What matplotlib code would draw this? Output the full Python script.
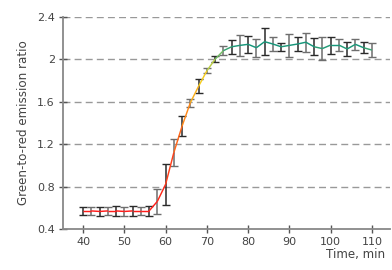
import numpy as np
import matplotlib
matplotlib.use('Agg')
import matplotlib.pyplot as plt
from matplotlib.collections import LineCollection
from matplotlib.colors import LinearSegmentedColormap

# data
time = list(range(40, 112, 2))
ratio = [0.57, 0.57, 0.565, 0.57, 0.57, 0.565, 0.57, 0.57, 0.57,
         0.66, 0.82, 1.12, 1.37, 1.59, 1.745, 1.89, 2.0, 2.08,
         2.117, 2.13, 2.14, 2.108, 2.165, 2.143, 2.117, 2.13, 2.143,
         2.16, 2.117, 2.10, 2.133, 2.133, 2.096, 2.14, 2.108, 2.086]
err = [0.04, 0.04, 0.045, 0.04, 0.045, 0.04, 0.045, 0.04, 0.045,
       0.12, 0.195, 0.125, 0.09, 0.037, 0.065, 0.023, 0.028, 0.043,
       0.065, 0.1, 0.08, 0.085, 0.13, 0.07, 0.04, 0.105, 0.065,
       0.09, 0.08, 0.11, 0.08, 0.055, 0.07, 0.05, 0.05, 0.065]
yticks = [0.4, 0.8, 1.2, 1.6, 2.0, 2.4]
ytick_labels = ['0.4', '0.8', '1.2', '1.6', '2', '2.4']
xticks = [40, 50, 60, 70, 80, 90, 100, 110]

txt = '#444444'
fig = plt.figure(figsize=(3.92, 2.70), dpi=100)
ax = fig.add_axes([0.161, 0.152, 0.834, 0.786])

# error bars, alternating dark / grey
bar_cols = ['#2a2a2a', '#6e6e6e']
for i in range(len(time)):
    ax.errorbar(time[i], ratio[i], yerr=err[i], fmt='none',
                ecolor=bar_cols[i % 2], elinewidth=1.1, capsize=3.2,
                capthick=1.0, zorder=3)

# line coloured by value
cmap = LinearSegmentedColormap.from_list('rg', [
    (0.0, '#ff1a1a'), (0.25, '#ff3b1a'), (0.6, '#ff8c1a'),
    (0.82, '#f5d21e'), (0.92, '#9ccc5a'), (1.0, '#16967a')])
pts = np.column_stack([time, ratio])
segs = np.stack([pts[:-1], pts[1:]], axis=1)
mid = (np.array(ratio[:-1]) + np.array(ratio[1:])) / 2
lc = LineCollection(segs, cmap=cmap, linewidths=1.05, zorder=4)
lc.set_array(mid)
lc.set_clim(0.55, 2.13)
ax.add_collection(lc)

ax.set_xlim(35.16, 114.4)
ax.set_ylim(0.4, 2.4)
ax.set_yticks(yticks)
ax.set_yticklabels(ytick_labels)
ax.set_xticks(xticks)

for y in yticks[1:]:
    ax.axhline(y, color='#999999', lw=1.0, ls=(0, (5, 3)), zorder=1)

for s in ['top', 'right']:
    ax.spines[s].set_visible(False)
for s in ['left', 'bottom']:
    ax.spines[s].set_color('#888888')
    ax.spines[s].set_linewidth(1.3)
ax.tick_params(direction='inout', length=6, width=1.0, color='#555555',
               labelsize=8, labelcolor=txt, pad=3)

ax.set_ylabel('Green-to-red emission ratio', fontsize=8.6, color=txt, labelpad=5)
fig.text(0.982, 0.035, 'Time, min', ha='right', va='bottom', fontsize=8.6, color=txt)

fig.savefig('out.png', dpi=100)
